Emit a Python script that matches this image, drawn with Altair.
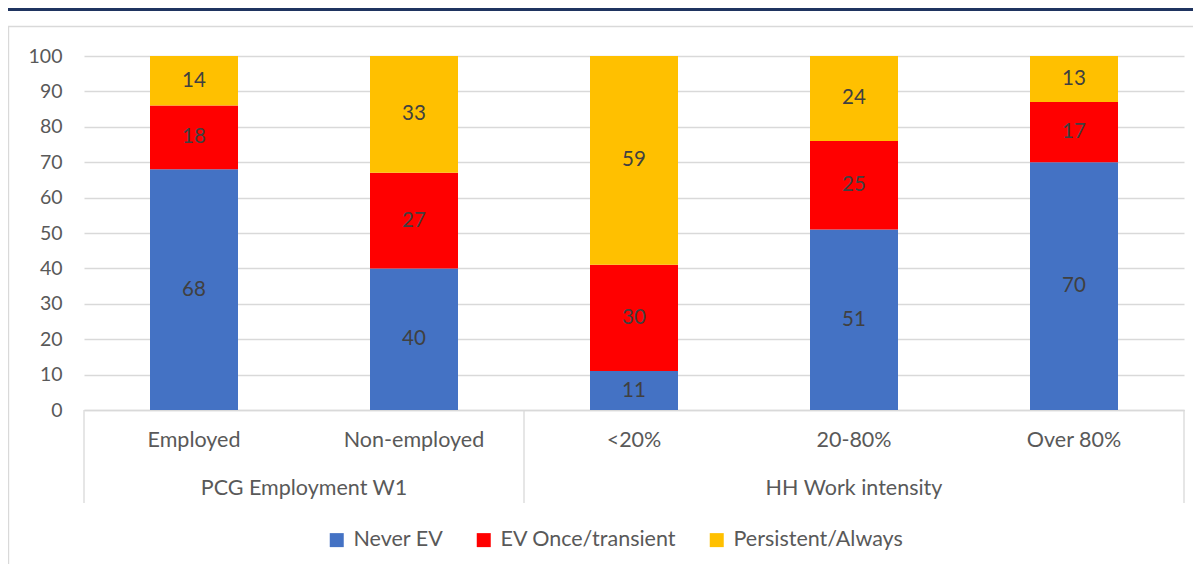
import altair as alt
import pandas as pd

# ---- data ----
categories = ["Employed", "Non-employed", "<20%", "20-80%", "Over 80%"]
groups = ["PCG Employment W1", "PCG Employment W1",
          "HH Work intensity", "HH Work intensity", "HH Work intensity"]
series_names = ["Never EV", "EV Once/transient", "Persistent/Always"]
never_ev = [68, 40, 11, 51, 70]
ev_once = [18, 27, 30, 25, 17]
persistent = [14, 33, 59, 24, 13]
series_colors = ["#4472C4", "#FF0000", "#FFC000"]
y_ticks = list(range(0, 101, 10))

FONT = "Lato"
GREY_TXT = "#595959"
GRID = "#D9D9D9"

# ---- tables built from the arrays ----
rows = []
for i, cat in enumerate(categories):
    base = 0
    for s, vals in zip(series_names, [never_ev, ev_once, persistent]):
        v = vals[i]
        rows.append({"cat": cat, "idx": i, "x0": i - 0.2, "x1": i + 0.2,
                     "series": s, "value": v, "y0": base, "y1": base + v,
                     "ymid": base + v / 2})
        base += v
bars_df = pd.DataFrame(rows)

cat_df = pd.DataFrame({"cat": categories, "idx": list(range(len(categories)))})

grp_names = []
for g in groups:
    if g not in grp_names:
        grp_names.append(g)
grp_rows = []
for g in grp_names:
    ids = [i for i, gg in enumerate(groups) if gg == g]
    grp_rows.append({"group": g, "center": sum(ids) / len(ids)})
grp_df = pd.DataFrame(grp_rows)

sep_pos = [-0.5]
for i in range(1, len(groups)):
    if groups[i] != groups[i - 1]:
        sep_pos.append(i - 0.5)
sep_pos.append(len(groups) - 0.5)
sep_df = pd.DataFrame({"pos": sep_pos})

W, H = 1100, 354
xscale = alt.Scale(domain=[-0.5, len(categories) - 0.5], nice=False, zero=False)
yscale = alt.Scale(domain=[0, 100], nice=False)

x_axis = alt.Axis(labels=False, ticks=False, grid=False, domain=True,
                  domainColor=GRID, domainWidth=1.3, title=None)
y_axis = alt.Axis(values=y_ticks, grid=True, gridColor=GRID, gridWidth=1.3,
                  domain=False, ticks=False, labelPadding=22, labelFont=FONT,
                  labelFontSize=19.5, labelColor=GREY_TXT, title=None,
                  labelOverlap=False)

one = pd.DataFrame({"a": [0]})

frame = alt.Chart(one).mark_rect(fillOpacity=0, stroke=GRID, strokeWidth=1.4).encode(
    x=alt.value(-75.5), x2=alt.value(1200), y=alt.value(-29.5), y2=alt.value(600))

topline = alt.Chart(one).mark_rule(color="#1F3460", strokeWidth=4).encode(
    x=alt.value(-80), x2=alt.value(1120), y=alt.value(-47))

bars = alt.Chart(bars_df).mark_bar().encode(
    x=alt.X("x0:Q", scale=xscale, axis=x_axis),
    x2="x1:Q",
    y=alt.Y("y0:Q", scale=yscale, axis=y_axis),
    y2="y1:Q",
    color=alt.Color("series:N",
                    scale=alt.Scale(domain=series_names, range=series_colors),
                    legend=alt.Legend(orient="none", direction="horizontal",
                                      legendX=242, legendY=473, title=None,
                                      symbolType="square", symbolSize=196,
                                      symbolStrokeWidth=0, labelFont=FONT,
                                      labelFontSize=21.5, labelColor=GREY_TXT,
                                      labelLimit=400,
                                      labelOffset=6, columnPadding=29)),
    order=alt.Order("y0:Q"),
)

labels = alt.Chart(bars_df).mark_text(font=FONT, fontSize=20.5, color="#404040",
                                      baseline="middle").encode(
    x=alt.X("idx:Q", scale=xscale, axis=x_axis),
    y=alt.Y("ymid:Q", scale=yscale, axis=y_axis),
    text=alt.Text("value:Q", format="d"),
)

cat_labels = alt.Chart(cat_df).mark_text(font=FONT, fontSize=21.5, color=GREY_TXT,
                                         baseline="middle").encode(
    x=alt.X("idx:Q", scale=xscale, axis=x_axis),
    y=alt.value(385),
    text="cat:N",
)

grp_labels = alt.Chart(grp_df).mark_text(font=FONT, fontSize=21.5, color=GREY_TXT,
                                         baseline="middle").encode(
    x=alt.X("center:Q", scale=xscale, axis=x_axis),
    y=alt.value(433),
    text="group:N",
)

seps = alt.Chart(sep_df).mark_rule(color=GRID, strokeWidth=1.3).encode(
    x=alt.X("pos:Q", scale=xscale, axis=x_axis),
    y=alt.value(H), y2=alt.value(447),
)

chart = alt.layer(frame, topline, bars, labels, cat_labels, grp_labels, seps).properties(
    width=W, height=H,
    autosize=alt.AutoSizeParams(type="none"),
    padding={"left": 76, "top": 48, "right": 9, "bottom": 154},
).configure_view(stroke=None)

chart.save("out.html", embed_options={"renderer": "svg", "actions": False})
